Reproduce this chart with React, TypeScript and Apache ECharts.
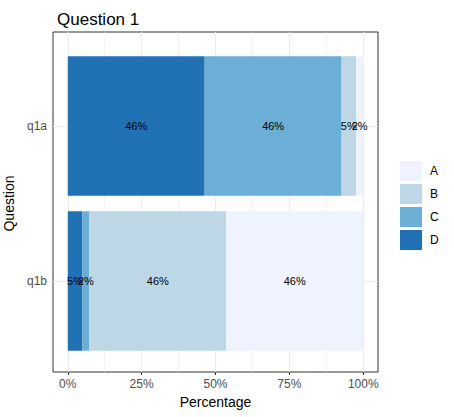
import React, { useEffect, useRef } from "react";
import * as echarts from "echarts";

const questions = ["q1b", "q1a"];
const levelsLegend = ["A", "B", "C", "D"];
const seriesOrder = ["D", "C", "B", "A"];
// percentage per level, in the order of `questions`
const valuesD = [4.88, 46.34];
const valuesC = [2.44, 46.34];
const valuesB = [46.34, 4.88];
const valuesA = [46.34, 2.44];
const tickValues = [0, 25, 50, 75, 100];
const minorValues = [12.5, 37.5, 62.5, 87.5];

const colors: Record<string, string> = {
  A: "#eff3ff",
  B: "#bdd7e7",
  C: "#6baed6",
  D: "#2171b5",
};
const dataByLevel: Record<string, number[]> = {
  A: valuesA,
  B: valuesB,
  C: valuesC,
  D: valuesD,
};

const FONT = "'Liberation Sans', Arial, sans-serif";

export default function App() {
  const ref = useRef<HTMLDivElement>(null);
  useEffect(() => {
    if (!ref.current) return;
    const chart = echarts.init(ref.current, undefined, { renderer: "svg" });
    const barSeries = seriesOrder.map((lv, i) => ({
      name: lv,
      type: "bar",
      stack: "total",
      xAxisIndex: 1,
      yAxisIndex: 1,
      barWidth: "90%",
      z: 2,
      itemStyle: { color: colors[lv] },
      label: {
        show: true,
        position: "inside",
        color: "#000",
        fontSize: 11,
        fontFamily: FONT,
        formatter: (p: any) => Math.round(p.value) + "%",
      },
      labelLayout: { hideOverlap: false },
      data: dataByLevel[lv],
      markLine:
        i === 0
          ? {
              silent: true,
              z: 1,
              symbol: ["none", "none"],
              label: { show: false },
              lineStyle: { color: "#ebebeb", width: 1, type: "solid" },
              data: questions.map((q) => ({ yAxis: q })),
            }
          : undefined,
    }));
    chart.setOption({
      animation: false,
      textStyle: { fontFamily: FONT },
      title: {
        text: "Question 1",
        left: 52,
        top: 6,
        textStyle: { fontSize: 17, fontWeight: "normal", color: "#000", fontFamily: FONT },
      },
      legend: {
        data: levelsLegend,
        orient: "vertical",
        left: 400,
        top: 161,
        itemWidth: 22,
        itemHeight: 20,
        itemGap: 3,
        icon: "rect",
        padding: 0,
        textStyle: { fontSize: 12, color: "#000", fontFamily: FONT, padding: [0, 0, 0, 3] },
      },
      grid: [
        {
          left: 53, right: 76, top: 32, bottom: 45,
          show: true, borderColor: "#333", borderWidth: 1,
          containLabel: false, outerBoundsMode: "none",
        },
        {
          left: 53, right: 76, top: 48.5, bottom: 58.5,
          containLabel: false, outerBoundsMode: "none",
        },
      ],
      xAxis: [
        {
          type: "value",
          gridIndex: 0,
          min: -5,
          max: 105,
          name: "Percentage",
          nameLocation: "middle",
          nameGap: 23,
          nameTextStyle: { fontSize: 14, color: "#000", fontFamily: FONT },
          axisLine: { show: false },
          axisTick: { show: true, length: 3, customValues: tickValues, lineStyle: { color: "#333" } },
          axisLabel: {
            customValues: tickValues,
            formatter: (v: number) => v + "%",
            color: "#4d4d4d",
            fontSize: 12,
            margin: 6,
            fontFamily: FONT,
          },
          splitLine: { show: false },
        },
        {
          type: "value",
          gridIndex: 1,
          min: -5,
          max: 105,
          show: false,
        },
      ],
      yAxis: [
        { type: "value", gridIndex: 0, min: 0, max: 1, show: false },
        {
          type: "category",
          gridIndex: 1,
          data: questions,
          name: "Question",
          nameLocation: "middle",
          nameGap: 27,
          nameTextStyle: { fontSize: 14, color: "#000", fontFamily: FONT },
          axisLine: { show: false },
          axisTick: { show: true, length: 3, alignWithLabel: true, lineStyle: { color: "#333" } },
          axisLabel: { color: "#4d4d4d", fontSize: 12, margin: 6, fontFamily: FONT },
          splitLine: { show: false },
        },
      ],
      series: [
        {
          type: "line",
          xAxisIndex: 0,
          yAxisIndex: 0,
          data: [],
          z: 1,
          markLine: {
            silent: true,
            z: 1,
            symbol: ["none", "none"],
            label: { show: false },
            data: [
              ...tickValues.map((v) => ({ xAxis: v, lineStyle: { color: "#ebebeb", width: 1, type: "solid" } })),
              ...minorValues.map((v) => ({ xAxis: v, lineStyle: { color: "#ebebeb", width: 0.6, type: "solid" } })),
            ],
          },
        },
        ...barSeries,
      ],
    });
    return () => chart.dispose();
  }, []);
  return <div ref={ref} style={{ position: "absolute", left: 0, top: 0, width: 454, height: 417 }} />;
}
